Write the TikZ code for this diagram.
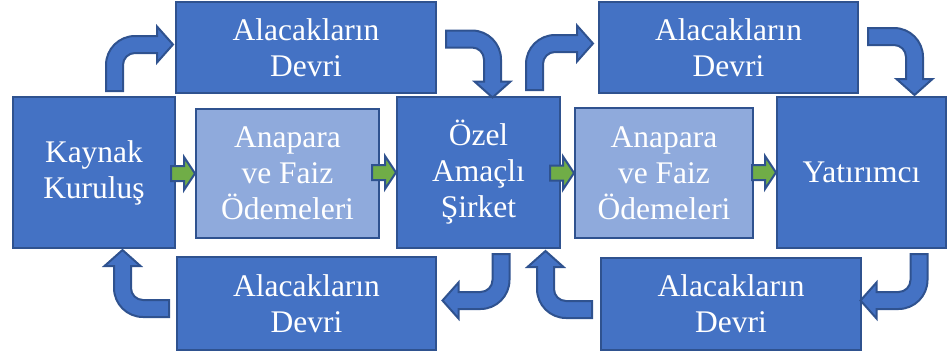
\documentclass[tikz,border=0pt]{standalone}
\usepackage{fontspec}
\setmainfont{Liberation Serif}
\definecolor{boxblue}{HTML}{4472C4}
\definecolor{edgeblue}{HTML}{2F528F}
\definecolor{lightblue}{HTML}{8FAADC}
\definecolor{arrowgreen}{HTML}{70AD47}
\tikzset{
  box/.style={draw=edgeblue, line width=2pt, fill=boxblue, text=white, align=center,
    font=\fontsize{31.5}{36}\selectfont, inner sep=0pt},
  lightbox/.style={box, fill=lightblue},
  bluearrow/.style={draw=edgeblue, line width=2pt, fill=boxblue, line join=miter},
  greenarr/.style={draw=edgeblue, line width=2pt, fill=arrowgreen, line join=miter},
  bentarrow/.pic={
    \path[bluearrow] (-8.5pt,0pt) -- (-8.5pt,26pt)
      arc[start angle=180, end angle=90, radius=29pt]
      -- (42.5pt,55pt) -- (42.5pt,64.5pt) -- (58.5pt,46.5pt) -- (42.5pt,28.5pt)
      -- (42.5pt,38pt) -- (20.5pt,38pt)
      arc[start angle=90, end angle=180, radius=12pt]
      -- (8.5pt,0pt) -- cycle;
  },
  greenarrow/.pic={
    \path[greenarr] (0pt,0pt) -- (-11pt,16.5pt) -- (-11pt,7.5pt) -- (-24pt,7.5pt)
      -- (-24pt,-7.5pt) -- (-11pt,-7.5pt) -- (-11pt,-16.5pt) -- cycle;
  }
}
\begin{document}
\begin{tikzpicture}[x=1pt, y=-1pt]
\useasboundingbox (0,0) rectangle (949,357);
% boxes
\node[box, minimum width=162pt, minimum height=151pt] (kaynak) at (94,172.5) {Kaynak\\Kuruluş};
\node[box, minimum width=260pt, minimum height=91pt] (top1) at (306,47.5) {Alacakların\\Devri};
\node[lightbox, minimum width=183pt, minimum height=129pt] (ap1) at (287.5,173.5) {Anapara\\ve Faiz\\Ödemeleri};
\node[box, minimum width=163pt, minimum height=151pt] (ozel) at (478.5,172.5) {Özel\\Amaçlı\\Şirket};
\node[box, minimum width=259pt, minimum height=91pt] (top2) at (728.5,47.5) {Alacakların\\Devri};
\node[lightbox, minimum width=178pt, minimum height=130pt] (ap2) at (664,173) {Anapara\\ve Faiz\\Ödemeleri};
\node[box, minimum width=169pt, minimum height=151pt] (yat) at (861.5,172.5) {Yatırımcı};
\node[box, minimum width=259pt, minimum height=93pt] (bot1) at (306.5,303.5) {Alacakların\\Devri};
\node[box, minimum width=260pt, minimum height=92pt] (bot2) at (731,304) {Alacakların\\Devri};
% green arrows
\pic at (ap1.west) {greenarrow};
\pic at (ozel.west) {greenarrow};
\pic at (ap2.west) {greenarrow};
\pic at (yat.west) {greenarrow};
% bent arrows
\pic at (114.5,91) {bentarrow};
\pic[rotate=-90] at (446,39) {bentarrow};
\pic at (534.5,90) {bentarrow};
\pic[rotate=-90] at (868,36.5) {bentarrow};
\pic[rotate=90] at (169,308.5) {bentarrow};
\pic[rotate=180] at (501,254) {bentarrow};
\pic[rotate=90] at (592,309.5) {bentarrow};
\pic[rotate=180] at (919,254) {bentarrow};
\end{tikzpicture}
\end{document}
